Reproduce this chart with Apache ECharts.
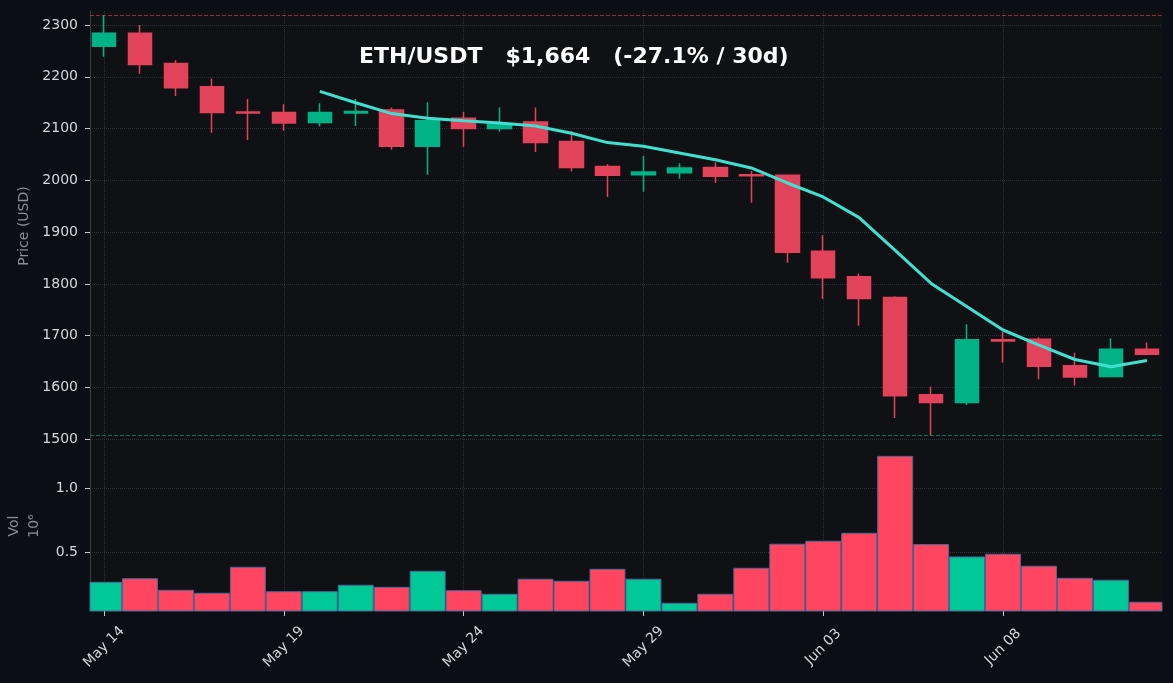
<!DOCTYPE html>
<html>
<head>
<meta charset="utf-8">
<script src="https://cdn.jsdelivr.net/npm/echarts@6/dist/echarts.min.js"></script>
<style>
html,body{margin:0;padding:0;background:#0b0e14;}
#chart{width:1173px;height:683px;}
</style>
</head>
<body>
<div id="chart"></div>
<script>
// ---- data ----
const dates = ["May 14","May 15","May 16","May 17","May 18","May 19","May 20","May 21","May 22","May 23",
  "May 24","May 25","May 26","May 27","May 28","May 29","May 30","May 31","Jun 01","Jun 02",
  "Jun 03","Jun 04","Jun 05","Jun 06","Jun 07","Jun 08","Jun 09","Jun 10","Jun 11","Jun 12"];
const opens  = [2259,2284,2226,2181,2132,2131,2112,2130,2136,2066,2120,2100,2113,2075,2027,2011,2015,2025,2011,2010,1863,1814,1774,1586,1571,1692,1693,1642,1621,1674];
const closes = [2284,2224,2179,2131,2130,2111,2131,2133,2066,2115,2100,2109,2073,2025,2010,2016,2024,2008,2009,1861,1812,1772,1584,1571,1692,1690,1641,1620,1674,1664];
const lows   = [2239,2206,2163,2092,2078,2096,2104,2105,2059,2011,2065,2094,2055,2017,1968,1978,2003,1995,1957,1841,1771,1719,1541,1507,1566,1648,1616,1604,1620,1663];
const highs  = [2319,2300,2232,2197,2157,2147,2149,2157,2141,2151,2132,2141,2141,2096,2031,2047,2033,2035,2018,2011,1894,1820,1776,1602,1722,1707,1697,1667,1695,1687];
const ma7    = [null,null,null,null,null,null,2172,2150,2129,2120,2115,2111,2105,2091,2073,2066,2053,2040,2024,1995,1968,1928,1865,1801,1756,1711,1682,1654,1640,1652];
const volumes = [0.270,0.298,0.208,0.185,0.387,0.197,0.197,0.247,0.231,0.356,0.205,0.177,0.294,0.278,0.371,0.294,0.107,0.177,0.379,0.566,0.589,0.651,1.249,0.563,0.467,0.488,0.395,0.301,0.286,0.115];
const priceTicks = [1500,1600,1700,1800,1900,2000,2100,2200,2300];
const volTicks = [0.5,1.0];
const dateTicks = [0,5,10,15,20,25];
const titleText = "ETH/USDT   $1,664   (-27.1% / 30d)";

// ---- styles ----
const UP = '#00b386', DOWN = '#e2435a';
const VUP = '#00c896', VDOWN = '#ff4560';
const BG = '#0b0e14', PANEL = '#0f1115';
const GRIDC = '#2c3038', LABELC = '#d4d7dc', NAMEC = '#8a8f99', SPINE = '#3a3e47';
const FONT = 'DejaVu Sans';

const candleData = dates.map((d,i)=>[i, opens[i], closes[i], lows[i], highs[i]]);
const maData = ma7.map((v,i)=>[i,v]).filter(p=>p[1]!==null);
const volData = volumes.map((v,i)=>[i, v, closes[i] > opens[i] ? 1 : 0]);
const maxHigh = Math.max(...highs), minLow = Math.min(...lows);

const xMin = -0.39, xMax = 29.42;
const volMin = 0.047, volMax = 1.368;

function renderVol(params, api){
  const x = api.value(0), v = api.value(1), up = api.value(2);
  const top = api.coord([x, v]);
  const base = api.coord([x, volMin]);
  const w = api.size([0.973, 0])[0];
  const rect = echarts.graphic.clipRectByRect(
    {x: top[0] - w/2, y: top[1], width: w, height: base[1] - top[1]},
    {x: params.coordSys.x, y: params.coordSys.y, width: params.coordSys.width, height: params.coordSys.height}
  );
  if (!rect) return;
  return {type:'rect', shape: rect,
    style:{fill: up ? VUP : VDOWN, stroke:'#4d6799', lineWidth:1}};
}

const chart = echarts.init(document.getElementById('chart'), null, {renderer:'canvas'});
chart.setOption({
  backgroundColor: BG,
  animation: false,
  textStyle:{fontFamily: FONT},
  grid: [
    {left:90, top:11, width:1072, height:430, show:true, backgroundColor:PANEL, borderWidth:0,
      containLabel:false, outerBoundsMode:'none'},
    {left:90, top:441, width:1072, height:170, show:true, backgroundColor:PANEL, borderWidth:0,
      containLabel:false, outerBoundsMode:'none'}
  ],
  graphic: [{
    type:'text', left:359, top:46, z:100,
    style:{text:titleText, fill:'#ffffff', font:'bold 22px "DejaVu Sans"'}
  }],
  xAxis: [
    {type:'value', gridIndex:0, min:xMin, max:xMax,
      axisLine:{show:false, onZero:false}, axisLabel:{show:false, customValues:dateTicks},
      axisTick:{show:false, customValues:dateTicks},
      splitLine:{show:true, lineStyle:{color:GRIDC, type:'dotted', width:1}}},
    {type:'value', gridIndex:1, min:xMin, max:xMax,
      axisLine:{show:false, onZero:false},
      axisTick:{show:true, length:5, customValues:dateTicks, lineStyle:{color:'#c8cbd0'}},
      axisLabel:{show:true, customValues:dateTicks, rotate:45, align:'center', verticalAlign:'middle',
        margin:36, color:LABELC, fontSize:14, fontFamily:FONT,
        formatter:(v)=>dates[Math.round(v)]},
      splitLine:{show:true, lineStyle:{color:GRIDC, type:'dotted', width:1}}}
  ],
  yAxis: [
    {type:'value', gridIndex:0, min:1496.6, max:2327.2,
      name:'Price (USD)', nameLocation:'middle', nameGap:55, nameRotate:90,
      nameTextStyle:{color:NAMEC, fontSize:14, fontFamily:FONT},
      axisLine:{show:true, onZero:false, lineStyle:{color:SPINE}},
      axisTick:{show:true, length:5, customValues:priceTicks, lineStyle:{color:'#c8cbd0'}},
      axisLabel:{customValues:priceTicks, color:LABELC, fontSize:14, margin:12, fontFamily:FONT,
        formatter:(v)=>String(Math.round(v))},
      splitLine:{show:true, lineStyle:{color:GRIDC, type:'dotted', width:1}}},
    {type:'value', gridIndex:1, min:volMin, max:volMax,
      name:'Vol\n10\u2076', nameLocation:'middle', nameGap:43, nameRotate:90,
      nameTextStyle:{color:NAMEC, fontSize:14, fontFamily:FONT, lineHeight:20},
      axisLine:{show:true, onZero:false, lineStyle:{color:SPINE}},
      axisTick:{show:true, length:5, customValues:volTicks, lineStyle:{color:'#c8cbd0'}},
      axisLabel:{customValues:volTicks, color:LABELC, fontSize:14, margin:12, fontFamily:FONT,
        formatter:(v)=>v.toFixed(1)},
      splitLine:{show:true, lineStyle:{color:GRIDC, type:'dotted', width:1}}}
  ],
  series: [
    {type:'candlestick', xAxisIndex:0, yAxisIndex:0, data:candleData,
      encode:{x:0, y:[1,2,3,4]}, barWidth:24,
      itemStyle:{color:UP, color0:DOWN, borderColor:UP, borderColor0:DOWN, borderColorDoji:DOWN, borderWidth:1.5},
      markLine:{silent:true, symbol:'none', label:{show:false},
        data:[
          {yAxis:maxHigh, lineStyle:{color:'rgba(226,67,90,0.6)', type:'dashed', width:1}},
          {yAxis:minLow, lineStyle:{color:'rgba(0,179,134,0.6)', type:'dashed', width:1}}
        ]}
    },
    {type:'line', xAxisIndex:0, yAxisIndex:0, data:maData, showSymbol:false, symbol:'none',
      lineStyle:{color:'#40e0d0', width:3}, z:5},
    {type:'custom', xAxisIndex:1, yAxisIndex:1, data:volData, renderItem:renderVol,
      encode:{x:0, y:1}}
  ]
});
</script>
</body>
</html>
